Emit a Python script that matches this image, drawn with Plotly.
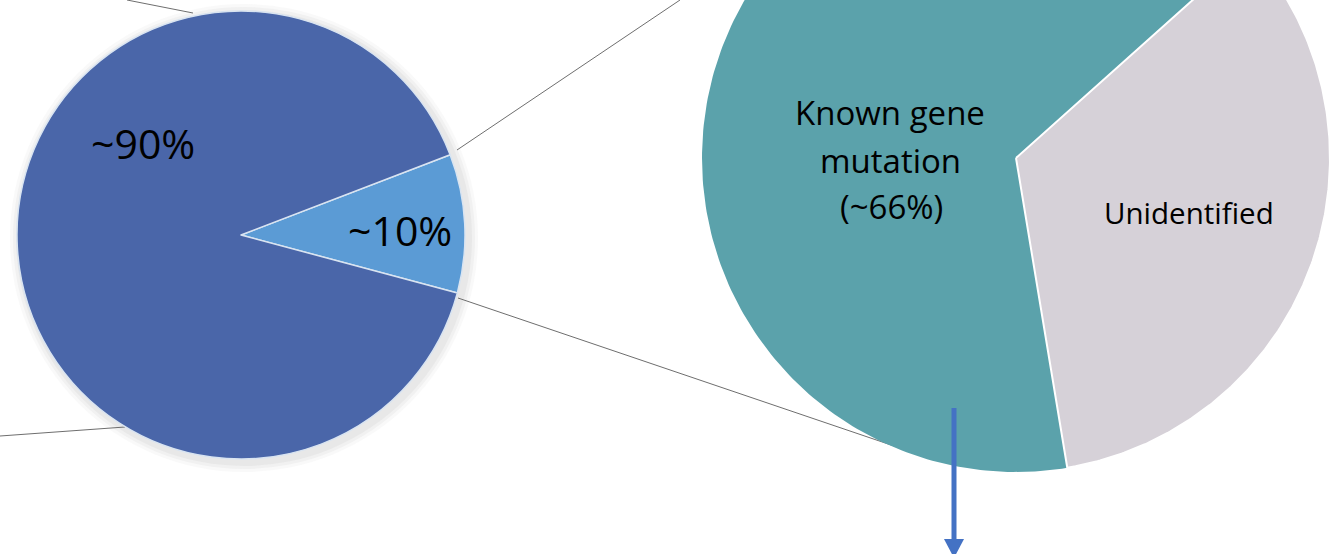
import numpy as np
import plotly.graph_objects as go

# ---- data ----
left_labels = ["~10%", "~90%"]
left_values = [10, 90]
left_colors = ["#5B9BD5", "#4A66A9"]

right_labels = ["Known gene mutation (~66%)", "Unidentified"]
right_values = [66, 34]
right_colors = ["#5BA2AB", "#D6D1D8"]

W, H = 1343, 554

fig = go.Figure()

# soft shadow behind the left pie
lcx, lcy, lr = 241, 235, 224
for k, op in [(10, 0.10), (7, 0.14), (4, 0.20)]:
    fig.add_shape(type="circle", x0=lcx - lr - k + 3, x1=lcx + lr + k + 3,
                  y0=lcy - lr - k + 3, y1=lcy + lr + k + 3, xref="x", yref="y",
                  fillcolor="#C8C8C8", opacity=op, line=dict(width=0), layer="below")

# left pie (plotly pie trace)
fig.add_trace(go.Pie(
    labels=left_labels, values=left_values, sort=False,
    direction="clockwise", rotation=69,
    marker=dict(colors=left_colors, line=dict(color="#D9E4F1", width=1.5)),
    textinfo="none", hoverinfo="skip", showlegend=False,
    domain=dict(x=[(lcx - lr) / W, (lcx + lr) / W], y=[(H - lcy - lr) / H, (H - lcy + lr) / H]),
))

# right pie: wedges built from the values on cartesian axes (pie extends past the top edge)
cx, cy, r = 1016, 158, 314
start = 170.6
tot = sum(right_values)
ang = start
for lab, val, col in zip(right_labels, right_values, right_colors):
    span = 360 * val / tot
    th = np.radians(np.linspace(ang, ang + span, 240))
    xs = np.concatenate([[cx], cx + r * np.sin(th), [cx]])
    ys = np.concatenate([[cy], cy - r * np.cos(th), [cy]])
    is_gray = lab == "Unidentified"
    fig.add_trace(go.Scatter(
        x=xs, y=ys, mode="lines", fill="toself", fillcolor=col,
        line=dict(color="white" if is_gray else col, width=2 if is_gray else 0),
        hoverinfo="skip", showlegend=False, name=lab,
    ))
    ang += span

fnt = "Open Sans"

# connector lines (drawn beneath the pies)
for (x0, y0, x1, y1) in [(127, 0, 193, 13), (0, 436, 125, 427), (457, 150, 680, 0), (458, 298, 900, 448)]:
    fig.add_shape(type="line", x0=x0, y0=y0, x1=x1, y1=y1, xref="x", yref="y",
                  line=dict(color="#6E6E6E", width=1), layer="below")

# labels
anns = [
    dict(text="~90%", x=143, y=143, size=41),
    dict(text="~10%", x=400, y=230, size=41),
    dict(text="Known gene", x=890, y=112, size=33),
    dict(text="mutation", x=890, y=160, size=33),
    dict(text="(~66%)", x=891, y=206, size=33),
    dict(text="Unidentified", x=1189, y=212, size=29.5),
]
for a in anns:
    fig.add_annotation(x=a["x"], y=a["y"], xref="x", yref="y", text=a["text"], showarrow=False,
                       font=dict(family=fnt, size=a["size"], color="black"),
                       xanchor="center", yanchor="middle")

# blue arrow
fig.add_shape(type="line", x0=954, x1=954, y0=408, y1=542, xref="x", yref="y",
              line=dict(color="#4472C4", width=5))
fig.add_shape(type="path", path="M 944 539 L 964 539 L 954 558 Z", xref="x", yref="y",
              fillcolor="#4472C4", line=dict(width=0))

fig.update_xaxes(range=[0, W], visible=False, fixedrange=True)
fig.update_yaxes(range=[H, 0], visible=False, fixedrange=True)
fig.update_layout(width=W, height=H, margin=dict(l=0, r=0, t=0, b=0),
                  paper_bgcolor="white", plot_bgcolor="white", hovermode=False)

fig.write_html("out.html", config={"displayModeBar": False, "staticPlot": True},
               post_script="document.body.style.margin='0';")
